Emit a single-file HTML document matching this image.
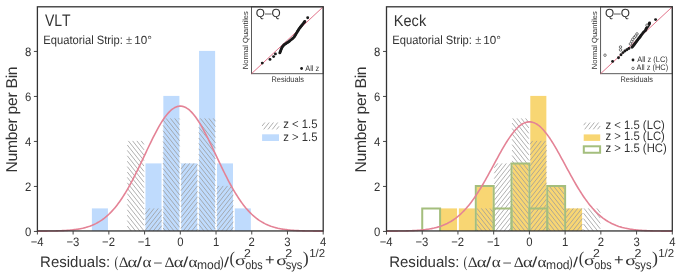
<!DOCTYPE html>
<html><head><meta charset="utf-8"><title>fig</title>
<style>html,body{margin:0;padding:0;background:#fff;}svg{display:block;will-change:transform;font-family:"Liberation Sans",sans-serif;}</style>
</head><body>
<svg width="679" height="272" viewBox="0 0 679 272" text-rendering="geometricPrecision" style="font-kerning:none">
<rect width="679" height="272" fill="#fff"/>
<rect x="91.89" y="208.40" width="16.06" height="22.50" fill="#bfdbfd"/>
<rect x="145.48" y="163.40" width="16.06" height="67.50" fill="#bfdbfd"/>
<rect x="163.34" y="95.90" width="16.06" height="135.00" fill="#bfdbfd"/>
<rect x="181.20" y="163.40" width="16.06" height="67.50" fill="#bfdbfd"/>
<rect x="199.06" y="50.90" width="16.06" height="180.00" fill="#bfdbfd"/>
<rect x="216.93" y="163.40" width="16.06" height="67.50" fill="#bfdbfd"/>
<rect x="234.79" y="208.40" width="16.06" height="22.50" fill="#bfdbfd"/>
<path d="M141.16,140.90L143.98,144.45M136.89,140.90L143.98,149.85M132.61,140.90L143.98,155.25M128.33,140.90L143.98,160.65M127.31,145.02L143.98,166.05M127.31,150.42L143.98,171.45M127.31,155.82L143.98,176.85M127.31,161.22L143.98,182.25M127.31,166.62L143.98,187.65M127.31,172.02L143.98,193.05M127.31,177.42L143.98,198.45M127.31,182.82L143.98,203.85M127.31,188.22L143.98,209.25M127.31,193.62L143.98,214.65M127.31,199.02L143.98,220.05M127.31,204.42L143.98,225.45M127.31,209.82L143.98,230.85M127.31,215.22L139.90,231.10M127.31,220.62L135.62,231.10M127.31,226.02L131.34,231.10" stroke="#9c9c9c" stroke-width="0.8" fill="none"/>
<path d="M145.18,208.79L145.48,208.40M145.18,214.19L149.76,208.40M145.18,219.59L154.04,208.40M145.18,224.99L158.32,208.40M145.18,230.39L161.84,209.36M148.89,231.10L161.84,214.76M153.17,231.10L161.84,220.16M157.45,231.10L161.84,225.56M161.73,231.10L161.84,230.96" stroke="#9c9c9c" stroke-width="0.8" fill="none"/>
<path d="M178.96,118.40L179.70,119.33M174.68,118.40L179.70,124.73M170.40,118.40L179.70,130.13M166.13,118.40L179.70,135.53M163.04,119.90L179.70,140.93M163.04,125.30L179.70,146.33M163.04,130.70L179.70,151.73M163.04,136.10L179.70,157.13M163.04,141.50L179.70,162.53M163.04,146.90L179.70,167.93M163.04,152.30L179.70,173.33M163.04,157.70L179.70,178.73M163.04,163.10L179.70,184.13M163.04,168.50L179.70,189.53M163.04,173.90L179.70,194.93M163.04,179.30L179.70,200.33M163.04,184.70L179.70,205.73M163.04,190.10L179.70,211.13M163.04,195.50L179.70,216.53M163.04,200.90L179.70,221.93M163.04,206.30L179.70,227.33M163.04,211.70L178.41,231.10M163.04,217.10L174.13,231.10M163.04,222.50L169.85,231.10M163.04,227.90L165.57,231.10" stroke="#9c9c9c" stroke-width="0.8" fill="none"/>
<path d="M180.90,163.70L181.14,163.40M180.90,169.10L185.42,163.40M180.90,174.50L189.70,163.40M180.90,179.90L193.98,163.40M180.90,185.30L197.56,164.28M180.90,190.70L197.56,169.68M180.90,196.10L197.56,175.08M180.90,201.50L197.56,180.48M180.90,206.90L197.56,185.88M180.90,212.30L197.56,191.28M180.90,217.70L197.56,196.68M180.90,223.10L197.56,202.08M180.90,228.50L197.56,207.48M183.12,231.10L197.56,212.88M187.40,231.10L197.56,218.28M191.68,231.10L197.56,223.68M195.96,231.10L197.56,229.08" stroke="#9c9c9c" stroke-width="0.8" fill="none"/>
<path d="M213.19,118.40L215.43,121.22M208.91,118.40L215.43,126.62M204.64,118.40L215.43,132.02M200.36,118.40L215.43,137.42M198.76,121.79L215.43,142.82M198.76,127.19L215.43,148.22M198.76,132.59L215.43,153.62M198.76,137.99L215.43,159.02M198.76,143.39L215.43,164.42M198.76,148.79L215.43,169.82M198.76,154.19L215.43,175.22M198.76,159.59L215.43,180.62M198.76,164.99L215.43,186.02M198.76,170.39L215.43,191.42M198.76,175.79L215.43,196.82M198.76,181.19L215.43,202.22M198.76,186.59L215.43,207.62M198.76,191.99L215.43,213.02M198.76,197.39L215.43,218.42M198.76,202.79L215.43,223.82M198.76,208.19L215.43,229.22M198.76,213.59L212.64,231.10M198.76,218.99L208.36,231.10M198.76,224.39L204.08,231.10M198.76,229.79L199.80,231.10" stroke="#9c9c9c" stroke-width="0.8" fill="none"/>
<path d="M216.62,188.82L218.94,185.90M216.62,194.22L223.22,185.90M216.62,199.62L227.50,185.90M216.62,205.02L231.77,185.90M216.62,210.42L233.29,189.39M216.62,215.82L233.29,194.79M216.62,221.22L233.29,200.19M216.62,226.62L233.29,205.59M217.35,231.10L233.29,210.99M221.63,231.10L233.29,216.39M225.91,231.10L233.29,221.79M230.19,231.10L233.29,227.19" stroke="#9c9c9c" stroke-width="0.8" fill="none"/>
<polyline points="37.40,231.16 38.59,231.15 39.78,231.15 40.97,231.14 42.16,231.13 43.35,231.12 44.55,231.11 45.74,231.10 46.93,231.08 48.12,231.07 49.31,231.05 50.50,231.03 51.69,231.01 52.88,230.98 54.07,230.96 55.26,230.93 56.45,230.89 57.64,230.86 58.84,230.81 60.03,230.77 61.22,230.72 62.41,230.66 63.60,230.60 64.79,230.53 65.98,230.45 67.17,230.37 68.36,230.28 69.55,230.18 70.74,230.06 71.93,229.94 73.12,229.81 74.32,229.66 75.51,229.51 76.70,229.33 77.89,229.15 79.08,228.94 80.27,228.72 81.46,228.48 82.65,228.22 83.84,227.93 85.03,227.63 86.22,227.30 87.41,226.94 88.61,226.56 89.80,226.15 90.99,225.70 92.18,225.23 93.37,224.72 94.56,224.18 95.75,223.60 96.94,222.98 98.13,222.32 99.32,221.61 100.51,220.87 101.70,220.08 102.90,219.24 104.09,218.35 105.28,217.41 106.47,216.42 107.66,215.37 108.85,214.27 110.04,213.11 111.23,211.90 112.42,210.62 113.61,209.29 114.80,207.90 116.00,206.44 117.19,204.93 118.38,203.35 119.57,201.71 120.76,200.01 121.95,198.24 123.14,196.42 124.33,194.53 125.52,192.59 126.71,190.59 127.90,188.53 129.09,186.41 130.28,184.25 131.48,182.03 132.67,179.77 133.86,177.46 135.05,175.11 136.24,172.73 137.43,170.31 138.62,167.86 139.81,165.38 141.00,162.89 142.19,160.37 143.38,157.85 144.58,155.32 145.77,152.79 146.96,150.27 148.15,147.76 149.34,145.27 150.53,142.80 151.72,140.36 152.91,137.96 154.10,135.60 155.29,133.28 156.48,131.03 157.67,128.83 158.87,126.71 160.06,124.66 161.25,122.68 162.44,120.80 163.63,119.01 164.82,117.31 166.01,115.72 167.20,114.23 168.39,112.86 169.58,111.60 170.77,110.47 171.96,109.46 173.16,108.58 174.35,107.83 175.54,107.21 176.73,106.72 177.92,106.38 179.11,106.17 180.30,106.10 181.49,106.17 182.68,106.38 183.87,106.72 185.06,107.21 186.25,107.83 187.45,108.58 188.64,109.46 189.83,110.47 191.02,111.60 192.21,112.86 193.40,114.23 194.59,115.72 195.78,117.31 196.97,119.01 198.16,120.80 199.35,122.68 200.54,124.66 201.74,126.71 202.93,128.83 204.12,131.03 205.31,133.28 206.50,135.60 207.69,137.96 208.88,140.36 210.07,142.80 211.26,145.27 212.45,147.76 213.64,150.27 214.83,152.79 216.03,155.32 217.22,157.85 218.41,160.37 219.60,162.89 220.79,165.38 221.98,167.86 223.17,170.31 224.36,172.73 225.55,175.11 226.74,177.46 227.93,179.77 229.12,182.03 230.32,184.25 231.51,186.41 232.70,188.53 233.89,190.59 235.08,192.59 236.27,194.53 237.46,196.42 238.65,198.24 239.84,200.01 241.03,201.71 242.22,203.35 243.41,204.93 244.61,206.44 245.80,207.90 246.99,209.29 248.18,210.62 249.37,211.90 250.56,213.11 251.75,214.27 252.94,215.37 254.13,216.42 255.32,217.41 256.51,218.35 257.70,219.24 258.89,220.08 260.09,220.87 261.28,221.61 262.47,222.32 263.66,222.98 264.85,223.60 266.04,224.18 267.23,224.72 268.42,225.23 269.61,225.70 270.80,226.15 271.99,226.56 273.19,226.94 274.38,227.30 275.57,227.63 276.76,227.93 277.95,228.22 279.14,228.48 280.33,228.72 281.52,228.94 282.71,229.15 283.90,229.33 285.09,229.51 286.28,229.66 287.48,229.81 288.67,229.94 289.86,230.06 291.05,230.18 292.24,230.28 293.43,230.37 294.62,230.45 295.81,230.53 297.00,230.60 298.19,230.66 299.38,230.72 300.57,230.77 301.76,230.81 302.96,230.86 304.15,230.89 305.34,230.93 306.53,230.96 307.72,230.98 308.91,231.01 310.10,231.03 311.29,231.05 312.48,231.07 313.67,231.08 314.86,231.10 316.06,231.11 317.25,231.12 318.44,231.13 319.63,231.14 320.82,231.15 322.01,231.15 323.20,231.16" fill="none" stroke="#e48396" stroke-width="1.6" stroke-linejoin="round"/>
<g fill="#333333">
<line x1="37.40" y1="231.1" x2="37.40" y2="234.5" stroke="#333333" stroke-width="0.9"/>
<text transform="translate(37.10,245.60) scale(1,1.08)" font-size="11.3" text-anchor="middle">−4</text>
<line x1="73.12" y1="231.1" x2="73.12" y2="234.5" stroke="#333333" stroke-width="0.9"/>
<text transform="translate(72.83,245.60) scale(1,1.08)" font-size="11.3" text-anchor="middle">−3</text>
<line x1="108.85" y1="231.1" x2="108.85" y2="234.5" stroke="#333333" stroke-width="0.9"/>
<text transform="translate(108.55,245.60) scale(1,1.08)" font-size="11.3" text-anchor="middle">−2</text>
<line x1="144.58" y1="231.1" x2="144.58" y2="234.5" stroke="#333333" stroke-width="0.9"/>
<text transform="translate(144.28,245.60) scale(1,1.08)" font-size="11.3" text-anchor="middle">−1</text>
<line x1="180.30" y1="231.1" x2="180.30" y2="234.5" stroke="#333333" stroke-width="0.9"/>
<text transform="translate(180.30,245.60) scale(1,1.08)" font-size="11.3" text-anchor="middle">0</text>
<line x1="216.03" y1="231.1" x2="216.03" y2="234.5" stroke="#333333" stroke-width="0.9"/>
<text transform="translate(216.03,245.60) scale(1,1.08)" font-size="11.3" text-anchor="middle">1</text>
<line x1="251.75" y1="231.1" x2="251.75" y2="234.5" stroke="#333333" stroke-width="0.9"/>
<text transform="translate(251.75,245.60) scale(1,1.08)" font-size="11.3" text-anchor="middle">2</text>
<line x1="287.48" y1="231.1" x2="287.48" y2="234.5" stroke="#333333" stroke-width="0.9"/>
<text transform="translate(287.48,245.60) scale(1,1.08)" font-size="11.3" text-anchor="middle">3</text>
<line x1="323.20" y1="231.1" x2="323.20" y2="234.5" stroke="#333333" stroke-width="0.9"/>
<text transform="translate(323.20,245.60) scale(1,1.08)" font-size="11.3" text-anchor="middle">4</text>
<line x1="33.90" y1="231.45" x2="37.40" y2="231.45" stroke="#333333" stroke-width="0.9"/>
<text transform="translate(31.20,235.65) scale(1,1.08)" font-size="11.3" text-anchor="end">0</text>
<line x1="33.90" y1="186.45" x2="37.40" y2="186.45" stroke="#333333" stroke-width="0.9"/>
<text transform="translate(31.20,190.65) scale(1,1.08)" font-size="11.3" text-anchor="end">2</text>
<line x1="33.90" y1="141.45" x2="37.40" y2="141.45" stroke="#333333" stroke-width="0.9"/>
<text transform="translate(31.20,145.65) scale(1,1.08)" font-size="11.3" text-anchor="end">4</text>
<line x1="33.90" y1="96.45" x2="37.40" y2="96.45" stroke="#333333" stroke-width="0.9"/>
<text transform="translate(31.20,100.65) scale(1,1.08)" font-size="11.3" text-anchor="end">6</text>
<line x1="33.90" y1="51.45" x2="37.40" y2="51.45" stroke="#333333" stroke-width="0.9"/>
<text transform="translate(31.20,55.65) scale(1,1.08)" font-size="11.3" text-anchor="end">8</text>
<text transform="translate(16.65,172.5) rotate(-90)" font-size="15.7" textLength="106.1" lengthAdjust="spacing">Number per Bin</text>
<g transform="translate(0.00,0)"><text transform="translate(40.067,266.850) scale(0.9893,1)" font-size="15.2" font-family="Liberation Sans">Residuals:</text>
<text transform="translate(114.387,266.866) scale(1.1681,1.5661)" font-size="10" font-family="Liberation Serif">(</text>
<text transform="translate(118.716,266.750) scale(1.5334,1.4466)" font-size="10" font-family="Liberation Serif">Δ</text>
<text transform="translate(127.585,266.850) scale(1.8775,1.5370)" font-size="10" font-family="Liberation Serif">α</text>
<text transform="translate(136.800,266.859) scale(1.8716,1.4434)" font-size="10" font-family="Liberation Sans">/</text>
<text transform="translate(142.542,266.850) scale(1.7264,1.5370)" font-size="10" font-family="Liberation Serif">α</text>
<text transform="translate(153.318,266.740) scale(1.5849,1.1923)" font-size="10" font-family="Liberation Sans">−</text>
<text transform="translate(164.603,266.750) scale(1.5686,1.4466)" font-size="10" font-family="Liberation Serif">Δ</text>
<text transform="translate(173.793,266.850) scale(1.8559,1.5370)" font-size="10" font-family="Liberation Serif">α</text>
<text transform="translate(183.000,266.859) scale(1.9076,1.4434)" font-size="10" font-family="Liberation Sans">/</text>
<text transform="translate(188.442,266.850) scale(1.7264,1.5370)" font-size="10" font-family="Liberation Serif">α</text>
<text transform="translate(196.998,269.100) scale(1.0495,1.09)" font-size="11.5" font-family="Liberation Sans">mod</text>
<text transform="translate(219.636,266.713) scale(1.1291,1.5440)" font-size="10" font-family="Liberation Serif">)</text>
<text transform="translate(224.000,266.862) scale(1.7996,1.4162)" font-size="10" font-family="Liberation Sans">/</text>
<text transform="translate(229.581,263.649) scale(1.6353,1.8087)" font-size="10" font-family="Liberation Serif">(</text>
<text transform="translate(234.940,264.660) scale(1.9965,1.4382)" font-size="10" font-family="Liberation Serif">σ</text>
<text transform="translate(243.982,256.900) scale(1.0689,1)" font-size="11.5" font-family="Liberation Sans">2</text>
<text transform="translate(245.146,269.100) scale(0.9409,1.09)" font-size="11.5" font-family="Liberation Sans">obs</text>
<text transform="translate(264.996,265.383) scale(1.6466,1.5738)" font-size="10" font-family="Liberation Sans">+</text>
<text transform="translate(276.240,264.660) scale(1.9965,1.4382)" font-size="10" font-family="Liberation Serif">σ</text>
<text transform="translate(285.371,256.900) scale(1.0880,1)" font-size="11.5" font-family="Liberation Sans">2</text>
<text transform="translate(285.690,269.100) scale(0.9689,1.09)" font-size="11.5" font-family="Liberation Sans">sys</text>
<text transform="translate(302.823,263.549) scale(1.7910,1.8087)" font-size="10" font-family="Liberation Serif">)</text>
<text transform="translate(309.132,256.900) scale(0.9909,1)" font-size="11.5" font-family="Liberation Sans">1/2</text></g>
<text transform="translate(44.938,26.000) scale(1.4004,1.6861)" font-size="10" font-family="Liberation Sans">VLT</text>
<text transform="translate(43.25,43.60) scale(1,1.08)" font-size="11.2">Equatorial Strip:</text>
<text transform="translate(126.047,43.600) scale(1.1115,1.2096)" font-size="10" font-family="Liberation Sans" fill="#555">±</text>
<text transform="translate(134.214,43.586) scale(1.1628,1.1723)" font-size="10" font-family="Liberation Sans">10°</text>
</g>
<rect x="251.50" y="6.8" width="71.70" height="66.90" fill="#fff" stroke="#484848" stroke-width="0.9"/>
<line x1="251.50" y1="73.7" x2="323.20" y2="6.8" stroke="#e2738a" stroke-width="1"/>
<rect x="37.40" y="6.8" width="285.80" height="224.15" fill="none" stroke="#333333" stroke-width="1.3"/>
<g fill="#333333">
<text transform="translate(255.80,17.45) scale(1,1.0)" font-size="11.8">Q–Q</text>
<text transform="translate(287.65,81.60) scale(1,1.08)" font-size="7.4" text-anchor="middle">Residuals</text>
<text transform="translate(247.50,40.2) rotate(-90)" font-size="7.5" text-anchor="middle">Normal Quantiles</text>
</g>
<circle cx="262.30" cy="63.10" r="1.45" fill="#1a1a1a"/>
<circle cx="270.00" cy="59.40" r="1.45" fill="#1a1a1a"/>
<circle cx="273.60" cy="56.60" r="1.45" fill="#1a1a1a"/>
<circle cx="275.40" cy="53.90" r="1.45" fill="#1a1a1a"/>
<circle cx="279.80" cy="52.90" r="1.45" fill="#1a1a1a"/>
<circle cx="280.20" cy="51.95" r="1.45" fill="#1a1a1a"/>
<circle cx="280.60" cy="51.00" r="1.45" fill="#1a1a1a"/>
<circle cx="280.95" cy="50.00" r="1.45" fill="#1a1a1a"/>
<circle cx="281.30" cy="49.00" r="1.45" fill="#1a1a1a"/>
<circle cx="281.80" cy="47.95" r="1.45" fill="#1a1a1a"/>
<circle cx="282.30" cy="46.90" r="1.45" fill="#1a1a1a"/>
<circle cx="283.10" cy="45.95" r="1.45" fill="#1a1a1a"/>
<circle cx="283.90" cy="45.00" r="1.45" fill="#1a1a1a"/>
<circle cx="284.80" cy="44.35" r="1.45" fill="#1a1a1a"/>
<circle cx="285.70" cy="43.70" r="1.45" fill="#1a1a1a"/>
<circle cx="286.75" cy="43.05" r="1.45" fill="#1a1a1a"/>
<circle cx="287.80" cy="42.40" r="1.45" fill="#1a1a1a"/>
<circle cx="288.75" cy="41.70" r="1.45" fill="#1a1a1a"/>
<circle cx="289.70" cy="41.00" r="1.45" fill="#1a1a1a"/>
<circle cx="290.75" cy="40.10" r="1.45" fill="#1a1a1a"/>
<circle cx="291.80" cy="39.20" r="1.45" fill="#1a1a1a"/>
<circle cx="292.75" cy="38.40" r="1.45" fill="#1a1a1a"/>
<circle cx="293.70" cy="37.60" r="1.45" fill="#1a1a1a"/>
<circle cx="294.35" cy="36.65" r="1.45" fill="#1a1a1a"/>
<circle cx="295.00" cy="35.70" r="1.45" fill="#1a1a1a"/>
<circle cx="295.65" cy="34.65" r="1.45" fill="#1a1a1a"/>
<circle cx="296.30" cy="33.60" r="1.45" fill="#1a1a1a"/>
<circle cx="296.95" cy="32.40" r="1.45" fill="#1a1a1a"/>
<circle cx="297.60" cy="31.20" r="1.45" fill="#1a1a1a"/>
<circle cx="298.25" cy="30.15" r="1.45" fill="#1a1a1a"/>
<circle cx="298.90" cy="29.10" r="1.45" fill="#1a1a1a"/>
<circle cx="299.60" cy="28.20" r="1.45" fill="#1a1a1a"/>
<circle cx="300.30" cy="27.30" r="1.45" fill="#1a1a1a"/>
<circle cx="301.10" cy="26.25" r="1.45" fill="#1a1a1a"/>
<circle cx="301.90" cy="25.20" r="1.45" fill="#1a1a1a"/>
<circle cx="302.80" cy="24.10" r="1.45" fill="#1a1a1a"/>
<circle cx="303.70" cy="23.00" r="1.45" fill="#1a1a1a"/>
<circle cx="304.25" cy="22.25" r="1.45" fill="#1a1a1a"/>
<circle cx="304.80" cy="21.50" r="1.45" fill="#1a1a1a"/>
<circle cx="307.70" cy="17.80" r="1.45" fill="#1a1a1a"/>
<circle cx="301.6" cy="68.5" r="1.4" fill="#1a1a1a"/>
<text transform="translate(305.30,71.00) scale(1,1.08)" font-size="7.4" fill="#333333">All z</text>
<path d="M262.10,126.03L264.90,122.50M263.71,129.40L269.18,122.50M267.99,129.40L273.45,122.50M272.27,129.40L277.73,122.50M276.55,129.40L279.00,126.30" stroke="#9c9c9c" stroke-width="0.8" fill="none"/>
<rect x="262.10" y="134.3" width="16.9" height="6.7" fill="#bfdbfd"/>
<text transform="translate(283.30,128.20) scale(1,1.08)" font-size="11.3" fill="#333333">z &lt; 1.5</text>
<text transform="translate(283.30,140.70) scale(1,1.08)" font-size="11.3" fill="#333333">z &gt; 1.5</text>
<rect x="440.99" y="208.40" width="16.06" height="22.50" fill="#f8d673"/>
<rect x="458.85" y="208.40" width="16.06" height="22.50" fill="#f8d673"/>
<rect x="476.71" y="185.90" width="16.06" height="45.00" fill="#f8d673"/>
<rect x="512.44" y="163.40" width="16.06" height="67.50" fill="#f8d673"/>
<rect x="530.30" y="95.90" width="16.06" height="135.00" fill="#f8d673"/>
<rect x="548.16" y="185.90" width="16.06" height="45.00" fill="#f8d673"/>
<rect x="566.02" y="208.40" width="16.06" height="22.50" fill="#f8d673"/>
<path d="M489.90,208.40L493.07,212.41M485.62,208.40L493.07,217.81M481.34,208.40L493.07,223.21M477.06,208.40L493.07,228.61M476.41,212.98L490.77,231.10M476.41,218.38L486.49,231.10M476.41,223.78L482.21,231.10M476.41,229.18L477.93,231.10" stroke="#9c9c9c" stroke-width="0.8" fill="none"/>
<path d="M494.28,167.82L497.78,163.40M494.28,173.22L502.06,163.40M494.28,178.62L506.34,163.40M494.28,184.02L510.62,163.40M494.28,189.42L510.94,168.40M494.28,194.82L510.94,173.80M494.28,200.22L510.94,179.20M494.28,205.62L510.94,184.60M494.28,211.02L510.94,190.00M494.28,216.42L510.94,195.40M494.28,221.82L510.94,200.80M494.28,227.22L510.94,206.20M495.48,231.10L510.94,211.60M499.76,231.10L510.94,217.00M504.04,231.10L510.94,222.40M508.32,231.10L510.94,227.80" stroke="#9c9c9c" stroke-width="0.8" fill="none"/>
<path d="M525.55,118.40L528.80,122.50M521.28,118.40L528.80,127.90M517.00,118.40L528.80,133.30M512.72,118.40L528.80,138.70M512.14,123.07L528.80,144.10M512.14,128.47L528.80,149.50M512.14,133.87L528.80,154.90M512.14,139.27L528.80,160.30M512.14,144.67L528.80,165.70M512.14,150.07L528.80,171.10M512.14,155.47L528.80,176.50M512.14,160.87L528.80,181.90M512.14,166.27L528.80,187.30M512.14,171.67L528.80,192.70M512.14,177.07L528.80,198.10M512.14,182.47L528.80,203.50M512.14,187.87L528.80,208.90M512.14,193.27L528.80,214.30M512.14,198.67L528.80,219.70M512.14,204.07L528.80,225.10M512.14,209.47L528.80,230.50M512.14,214.87L525.00,231.10M512.14,220.27L520.72,231.10M512.14,225.67L516.44,231.10M512.14,231.07L512.16,231.10" stroke="#9c9c9c" stroke-width="0.8" fill="none"/>
<path d="M530.00,144.34L532.73,140.90M530.00,149.74L537.00,140.90M530.00,155.14L541.28,140.90M530.00,160.54L545.56,140.90M530.00,165.94L546.66,144.91M530.00,171.34L546.66,150.31M530.00,176.74L546.66,155.71M530.00,182.14L546.66,161.11M530.00,187.54L546.66,166.51M530.00,192.94L546.66,171.91M530.00,198.34L546.66,177.31M530.00,203.74L546.66,182.71M530.00,209.14L546.66,188.11M530.00,214.54L546.66,193.51M530.00,219.94L546.66,198.91M530.00,225.34L546.66,204.31M530.00,230.74L546.66,209.71M533.99,231.10L546.66,215.11M538.27,231.10L546.66,220.51M542.55,231.10L546.66,225.91" stroke="#9c9c9c" stroke-width="0.8" fill="none"/>
<path d="M561.93,185.90L564.52,189.18M557.65,185.90L564.52,194.58M553.37,185.90L564.52,199.98M549.09,185.90L564.52,205.38M547.86,189.75L564.52,210.78M547.86,195.15L564.52,216.18M547.86,200.55L564.52,221.58M547.86,205.95L564.52,226.98M547.86,211.35L563.51,231.10M547.86,216.75L559.23,231.10M547.86,222.15L554.95,231.10M547.86,227.55L550.67,231.10" stroke="#9c9c9c" stroke-width="0.8" fill="none"/>
<path d="M565.73,212.66L569.10,208.40M565.73,218.06L573.38,208.40M565.73,223.46L577.65,208.40M565.73,228.86L581.93,208.40M568.23,231.10L582.39,213.23M572.50,231.10L582.39,218.63M576.78,231.10L582.39,224.03M581.06,231.10L582.39,229.43" stroke="#9c9c9c" stroke-width="0.8" fill="none"/>
<path d="M596.87,208.40L600.25,212.67M592.59,208.40L600.25,218.07M588.31,208.40L600.25,223.47M584.03,208.40L600.25,228.87M583.59,213.24L597.74,231.10M583.59,218.64L593.46,231.10M583.59,224.04L589.18,231.10M583.59,229.44L584.90,231.10" stroke="#9c9c9c" stroke-width="0.8" fill="none"/>
<path d="M422.23,231.1V208.40H440.09V231.1" fill="none" stroke="#a4be7d" stroke-width="2"/>
<path d="M475.81,231.1V185.90H493.68V231.1" fill="none" stroke="#a4be7d" stroke-width="2"/>
<path d="M493.68,231.1V208.40H511.54V231.1" fill="none" stroke="#a4be7d" stroke-width="2"/>
<path d="M511.54,231.1V163.40H529.40V231.1" fill="none" stroke="#a4be7d" stroke-width="2"/>
<path d="M529.40,231.1V208.40H547.26V231.1" fill="none" stroke="#a4be7d" stroke-width="2"/>
<path d="M547.26,231.1V185.90H565.12V231.1" fill="none" stroke="#a4be7d" stroke-width="2"/>
<polyline points="386.50,231.16 387.69,231.16 388.88,231.15 390.07,231.15 391.26,231.14 392.45,231.13 393.64,231.12 394.84,231.11 396.03,231.10 397.22,231.08 398.41,231.07 399.60,231.05 400.79,231.03 401.98,231.01 403.17,230.99 404.36,230.96 405.55,230.93 406.74,230.90 407.94,230.86 409.13,230.82 410.32,230.78 411.51,230.73 412.70,230.67 413.89,230.61 415.08,230.55 416.27,230.47 417.46,230.39 418.65,230.30 419.84,230.21 421.03,230.10 422.23,229.99 423.42,229.86 424.61,229.72 425.80,229.57 426.99,229.40 428.18,229.22 429.37,229.03 430.56,228.82 431.75,228.59 432.94,228.34 434.13,228.08 435.32,227.79 436.51,227.48 437.71,227.14 438.90,226.78 440.09,226.40 441.28,225.98 442.47,225.54 443.66,225.06 444.85,224.55 446.04,224.01 447.23,223.44 448.42,222.82 449.61,222.17 450.81,221.48 452.00,220.74 453.19,219.97 454.38,219.14 455.57,218.28 456.76,217.36 457.95,216.40 459.14,215.39 460.33,214.33 461.52,213.21 462.71,212.05 463.90,210.83 465.10,209.56 466.29,208.23 467.48,206.85 468.67,205.42 469.86,203.93 471.05,202.39 472.24,200.80 473.43,199.15 474.62,197.45 475.81,195.70 477.00,193.90 478.19,192.05 479.38,190.16 480.58,188.22 481.77,186.24 482.96,184.23 484.15,182.17 485.34,180.09 486.53,177.97 487.72,175.83 488.91,173.67 490.10,171.49 491.29,169.29 492.48,167.09 493.68,164.88 494.87,162.67 496.06,160.46 497.25,158.27 498.44,156.09 499.63,153.93 500.82,151.80 502.01,149.69 503.20,147.63 504.39,145.61 505.58,143.64 506.77,141.72 507.97,139.86 509.16,138.07 510.35,136.35 511.54,134.70 512.73,133.13 513.92,131.65 515.11,130.26 516.30,128.96 517.49,127.76 518.68,126.66 519.87,125.67 521.06,124.79 522.25,124.02 523.45,123.36 524.64,122.82 525.83,122.40 527.02,122.09 528.21,121.91 529.40,121.85 530.59,121.91 531.78,122.09 532.97,122.40 534.16,122.82 535.35,123.36 536.55,124.02 537.74,124.79 538.93,125.67 540.12,126.66 541.31,127.76 542.50,128.96 543.69,130.26 544.88,131.65 546.07,133.13 547.26,134.70 548.45,136.35 549.64,138.07 550.84,139.86 552.03,141.72 553.22,143.64 554.41,145.61 555.60,147.63 556.79,149.69 557.98,151.80 559.17,153.93 560.36,156.09 561.55,158.27 562.74,160.46 563.93,162.67 565.12,164.88 566.32,167.09 567.51,169.29 568.70,171.49 569.89,173.67 571.08,175.83 572.27,177.97 573.46,180.09 574.65,182.17 575.84,184.23 577.03,186.24 578.22,188.22 579.41,190.16 580.61,192.05 581.80,193.90 582.99,195.70 584.18,197.45 585.37,199.15 586.56,200.80 587.75,202.39 588.94,203.93 590.13,205.42 591.32,206.85 592.51,208.23 593.71,209.56 594.90,210.83 596.09,212.05 597.28,213.21 598.47,214.33 599.66,215.39 600.85,216.40 602.04,217.36 603.23,218.28 604.42,219.14 605.61,219.97 606.80,220.74 608.00,221.48 609.19,222.17 610.38,222.82 611.57,223.44 612.76,224.01 613.95,224.55 615.14,225.06 616.33,225.54 617.52,225.98 618.71,226.40 619.90,226.78 621.09,227.14 622.28,227.48 623.48,227.79 624.67,228.08 625.86,228.34 627.05,228.59 628.24,228.82 629.43,229.03 630.62,229.22 631.81,229.40 633.00,229.57 634.19,229.72 635.38,229.86 636.58,229.99 637.77,230.10 638.96,230.21 640.15,230.30 641.34,230.39 642.53,230.47 643.72,230.55 644.91,230.61 646.10,230.67 647.29,230.73 648.48,230.78 649.67,230.82 650.87,230.86 652.06,230.90 653.25,230.93 654.44,230.96 655.63,230.99 656.82,231.01 658.01,231.03 659.20,231.05 660.39,231.07 661.58,231.08 662.77,231.10 663.96,231.11 665.15,231.12 666.35,231.13 667.54,231.14 668.73,231.15 669.92,231.15 671.11,231.16 672.30,231.16" fill="none" stroke="#e48396" stroke-width="1.6" stroke-linejoin="round"/>
<g fill="#333333">
<line x1="386.50" y1="231.1" x2="386.50" y2="234.5" stroke="#333333" stroke-width="0.9"/>
<text transform="translate(386.20,245.60) scale(1,1.08)" font-size="11.3" text-anchor="middle">−4</text>
<line x1="422.23" y1="231.1" x2="422.23" y2="234.5" stroke="#333333" stroke-width="0.9"/>
<text transform="translate(421.93,245.60) scale(1,1.08)" font-size="11.3" text-anchor="middle">−3</text>
<line x1="457.95" y1="231.1" x2="457.95" y2="234.5" stroke="#333333" stroke-width="0.9"/>
<text transform="translate(457.65,245.60) scale(1,1.08)" font-size="11.3" text-anchor="middle">−2</text>
<line x1="493.68" y1="231.1" x2="493.68" y2="234.5" stroke="#333333" stroke-width="0.9"/>
<text transform="translate(493.38,245.60) scale(1,1.08)" font-size="11.3" text-anchor="middle">−1</text>
<line x1="529.40" y1="231.1" x2="529.40" y2="234.5" stroke="#333333" stroke-width="0.9"/>
<text transform="translate(529.40,245.60) scale(1,1.08)" font-size="11.3" text-anchor="middle">0</text>
<line x1="565.12" y1="231.1" x2="565.12" y2="234.5" stroke="#333333" stroke-width="0.9"/>
<text transform="translate(565.12,245.60) scale(1,1.08)" font-size="11.3" text-anchor="middle">1</text>
<line x1="600.85" y1="231.1" x2="600.85" y2="234.5" stroke="#333333" stroke-width="0.9"/>
<text transform="translate(600.85,245.60) scale(1,1.08)" font-size="11.3" text-anchor="middle">2</text>
<line x1="636.58" y1="231.1" x2="636.58" y2="234.5" stroke="#333333" stroke-width="0.9"/>
<text transform="translate(636.58,245.60) scale(1,1.08)" font-size="11.3" text-anchor="middle">3</text>
<line x1="672.30" y1="231.1" x2="672.30" y2="234.5" stroke="#333333" stroke-width="0.9"/>
<text transform="translate(672.30,245.60) scale(1,1.08)" font-size="11.3" text-anchor="middle">4</text>
<line x1="383.00" y1="231.45" x2="386.50" y2="231.45" stroke="#333333" stroke-width="0.9"/>
<text transform="translate(380.30,235.65) scale(1,1.08)" font-size="11.3" text-anchor="end">0</text>
<line x1="383.00" y1="186.45" x2="386.50" y2="186.45" stroke="#333333" stroke-width="0.9"/>
<text transform="translate(380.30,190.65) scale(1,1.08)" font-size="11.3" text-anchor="end">2</text>
<line x1="383.00" y1="141.45" x2="386.50" y2="141.45" stroke="#333333" stroke-width="0.9"/>
<text transform="translate(380.30,145.65) scale(1,1.08)" font-size="11.3" text-anchor="end">4</text>
<line x1="383.00" y1="96.45" x2="386.50" y2="96.45" stroke="#333333" stroke-width="0.9"/>
<text transform="translate(380.30,100.65) scale(1,1.08)" font-size="11.3" text-anchor="end">6</text>
<line x1="383.00" y1="51.45" x2="386.50" y2="51.45" stroke="#333333" stroke-width="0.9"/>
<text transform="translate(380.30,55.65) scale(1,1.08)" font-size="11.3" text-anchor="end">8</text>
<text transform="translate(365.75,172.5) rotate(-90)" font-size="15.7" textLength="106.1" lengthAdjust="spacing">Number per Bin</text>
<g transform="translate(349.10,0)"><text transform="translate(40.067,266.850) scale(0.9893,1)" font-size="15.2" font-family="Liberation Sans">Residuals:</text>
<text transform="translate(114.387,266.866) scale(1.1681,1.5661)" font-size="10" font-family="Liberation Serif">(</text>
<text transform="translate(118.716,266.750) scale(1.5334,1.4466)" font-size="10" font-family="Liberation Serif">Δ</text>
<text transform="translate(127.585,266.850) scale(1.8775,1.5370)" font-size="10" font-family="Liberation Serif">α</text>
<text transform="translate(136.800,266.859) scale(1.8716,1.4434)" font-size="10" font-family="Liberation Sans">/</text>
<text transform="translate(142.542,266.850) scale(1.7264,1.5370)" font-size="10" font-family="Liberation Serif">α</text>
<text transform="translate(153.318,266.740) scale(1.5849,1.1923)" font-size="10" font-family="Liberation Sans">−</text>
<text transform="translate(164.603,266.750) scale(1.5686,1.4466)" font-size="10" font-family="Liberation Serif">Δ</text>
<text transform="translate(173.793,266.850) scale(1.8559,1.5370)" font-size="10" font-family="Liberation Serif">α</text>
<text transform="translate(183.000,266.859) scale(1.9076,1.4434)" font-size="10" font-family="Liberation Sans">/</text>
<text transform="translate(188.442,266.850) scale(1.7264,1.5370)" font-size="10" font-family="Liberation Serif">α</text>
<text transform="translate(196.998,269.100) scale(1.0495,1.09)" font-size="11.5" font-family="Liberation Sans">mod</text>
<text transform="translate(219.636,266.713) scale(1.1291,1.5440)" font-size="10" font-family="Liberation Serif">)</text>
<text transform="translate(224.000,266.862) scale(1.7996,1.4162)" font-size="10" font-family="Liberation Sans">/</text>
<text transform="translate(229.581,263.649) scale(1.6353,1.8087)" font-size="10" font-family="Liberation Serif">(</text>
<text transform="translate(234.940,264.660) scale(1.9965,1.4382)" font-size="10" font-family="Liberation Serif">σ</text>
<text transform="translate(243.982,256.900) scale(1.0689,1)" font-size="11.5" font-family="Liberation Sans">2</text>
<text transform="translate(245.146,269.100) scale(0.9409,1.09)" font-size="11.5" font-family="Liberation Sans">obs</text>
<text transform="translate(264.996,265.383) scale(1.6466,1.5738)" font-size="10" font-family="Liberation Sans">+</text>
<text transform="translate(276.240,264.660) scale(1.9965,1.4382)" font-size="10" font-family="Liberation Serif">σ</text>
<text transform="translate(285.371,256.900) scale(1.0880,1)" font-size="11.5" font-family="Liberation Sans">2</text>
<text transform="translate(285.690,269.100) scale(0.9689,1.09)" font-size="11.5" font-family="Liberation Sans">sys</text>
<text transform="translate(302.823,263.549) scale(1.7910,1.8087)" font-size="10" font-family="Liberation Serif">)</text>
<text transform="translate(309.132,256.900) scale(0.9909,1)" font-size="11.5" font-family="Liberation Sans">1/2</text></g>
<text transform="translate(393.805,25.846) scale(1.4562,1.5796)" font-size="10" font-family="Liberation Sans">Keck</text>
<text transform="translate(392.35,43.60) scale(1,1.08)" font-size="11.2">Equatorial Strip:</text>
<text transform="translate(475.147,43.600) scale(1.1115,1.2096)" font-size="10" font-family="Liberation Sans" fill="#555">±</text>
<text transform="translate(483.314,43.586) scale(1.1628,1.1723)" font-size="10" font-family="Liberation Sans">10°</text>
</g>
<rect x="600.60" y="6.8" width="71.70" height="66.90" fill="#fff" stroke="#484848" stroke-width="0.9"/>
<line x1="600.60" y1="73.7" x2="672.30" y2="6.8" stroke="#e2738a" stroke-width="1"/>
<rect x="386.50" y="6.8" width="285.80" height="224.15" fill="none" stroke="#333333" stroke-width="1.3"/>
<g fill="#333333">
<text transform="translate(604.90,17.45) scale(1,1.0)" font-size="11.8">Q–Q</text>
<text transform="translate(636.75,81.60) scale(1,1.08)" font-size="7.4" text-anchor="middle">Residuals</text>
<text transform="translate(596.60,40.2) rotate(-90)" font-size="7.5" text-anchor="middle">Normal Quantiles</text>
</g>
<circle cx="612.60" cy="61.40" r="1.45" fill="#1a1a1a"/>
<circle cx="618.50" cy="57.80" r="1.45" fill="#1a1a1a"/>
<circle cx="621.00" cy="54.70" r="1.45" fill="#1a1a1a"/>
<circle cx="623.00" cy="52.60" r="1.45" fill="#1a1a1a"/>
<circle cx="624.90" cy="51.00" r="1.45" fill="#1a1a1a"/>
<circle cx="626.90" cy="49.70" r="1.45" fill="#1a1a1a"/>
<circle cx="628.90" cy="48.50" r="1.45" fill="#1a1a1a"/>
<circle cx="632.00" cy="47.20" r="1.45" fill="#1a1a1a"/>
<circle cx="632.85" cy="46.20" r="1.45" fill="#1a1a1a"/>
<circle cx="633.70" cy="45.20" r="1.45" fill="#1a1a1a"/>
<circle cx="634.37" cy="44.33" r="1.45" fill="#1a1a1a"/>
<circle cx="635.03" cy="43.47" r="1.45" fill="#1a1a1a"/>
<circle cx="635.70" cy="42.60" r="1.45" fill="#1a1a1a"/>
<circle cx="636.37" cy="41.70" r="1.45" fill="#1a1a1a"/>
<circle cx="637.03" cy="40.80" r="1.45" fill="#1a1a1a"/>
<circle cx="637.70" cy="39.90" r="1.45" fill="#1a1a1a"/>
<circle cx="638.37" cy="39.03" r="1.45" fill="#1a1a1a"/>
<circle cx="639.03" cy="38.17" r="1.45" fill="#1a1a1a"/>
<circle cx="639.70" cy="37.30" r="1.45" fill="#1a1a1a"/>
<circle cx="640.37" cy="36.40" r="1.45" fill="#1a1a1a"/>
<circle cx="641.03" cy="35.50" r="1.45" fill="#1a1a1a"/>
<circle cx="641.70" cy="34.60" r="1.45" fill="#1a1a1a"/>
<circle cx="642.60" cy="33.40" r="1.45" fill="#1a1a1a"/>
<circle cx="643.50" cy="32.20" r="1.45" fill="#1a1a1a"/>
<circle cx="644.50" cy="31.35" r="1.45" fill="#1a1a1a"/>
<circle cx="645.50" cy="30.50" r="1.45" fill="#1a1a1a"/>
<circle cx="645.90" cy="29.50" r="1.45" fill="#1a1a1a"/>
<circle cx="646.30" cy="28.50" r="1.45" fill="#1a1a1a"/>
<circle cx="647.00" cy="27.50" r="1.45" fill="#1a1a1a"/>
<circle cx="647.70" cy="26.50" r="1.45" fill="#1a1a1a"/>
<circle cx="648.35" cy="25.50" r="1.45" fill="#1a1a1a"/>
<circle cx="649.00" cy="24.50" r="1.45" fill="#1a1a1a"/>
<circle cx="649.30" cy="23.70" r="1.45" fill="#1a1a1a"/>
<circle cx="649.60" cy="22.90" r="1.45" fill="#1a1a1a"/>
<circle cx="655.60" cy="19.60" r="1.45" fill="#1a1a1a"/>
<circle cx="605.00" cy="55.2" r="1.25" fill="#fff" stroke="#222" stroke-width="0.6"/>
<circle cx="620.50" cy="47" r="1.25" fill="#fff" stroke="#222" stroke-width="0.6"/>
<circle cx="620.50" cy="49.9" r="1.25" fill="#fff" stroke="#222" stroke-width="0.6"/>
<circle cx="630.40" cy="43.9" r="1.25" fill="#fff" stroke="#222" stroke-width="0.6"/>
<circle cx="631.80" cy="41.3" r="1.25" fill="#fff" stroke="#222" stroke-width="0.6"/>
<circle cx="632.80" cy="39.3" r="1.25" fill="#fff" stroke="#222" stroke-width="0.6"/>
<circle cx="634.40" cy="37.3" r="1.25" fill="#fff" stroke="#222" stroke-width="0.6"/>
<circle cx="635.70" cy="36" r="1.25" fill="#fff" stroke="#222" stroke-width="0.6"/>
<circle cx="637.00" cy="33.9" r="1.25" fill="#fff" stroke="#222" stroke-width="0.6"/>
<circle cx="647.00" cy="25.2" r="1.25" fill="#fff" stroke="#222" stroke-width="0.6"/>
<circle cx="633" cy="60" r="1.4" fill="#1a1a1a"/>
<circle cx="633" cy="68.4" r="1.25" fill="#fff" stroke="#222" stroke-width="0.6"/>
<text transform="translate(637.30,61.80) scale(1,1.08)" font-size="7.4" fill="#333333">All z (LC)</text>
<text transform="translate(636.50,70.10) scale(1,1.08)" font-size="7.4" fill="#333333">All z (HC)</text>
<path d="M583.70,125.17L585.82,122.50M584.71,129.30L590.10,122.50M588.99,129.30L594.37,122.50M593.26,129.30L598.65,122.50M597.54,129.30L600.20,125.95" stroke="#9c9c9c" stroke-width="0.8" fill="none"/>
<rect x="583.70" y="134.4" width="16.5" height="6.5" fill="#f8d673"/>
<rect x="583.80" y="146.3" width="16.3" height="6.45" fill="none" stroke="#a4be7d" stroke-width="2"/>
<text transform="translate(605.50,128.90) scale(1,1.08)" font-size="11.3" fill="#333333">z &lt; 1.5 (LC)</text>
<text transform="translate(605.50,140.40) scale(1,1.08)" font-size="11.3" fill="#333333">z &gt; 1.5 (LC)</text>
<text transform="translate(605.50,151.90) scale(1,1.08)" font-size="11.3" fill="#333333">z &gt; 1.5 (HC)</text>
</svg>
</body></html>
